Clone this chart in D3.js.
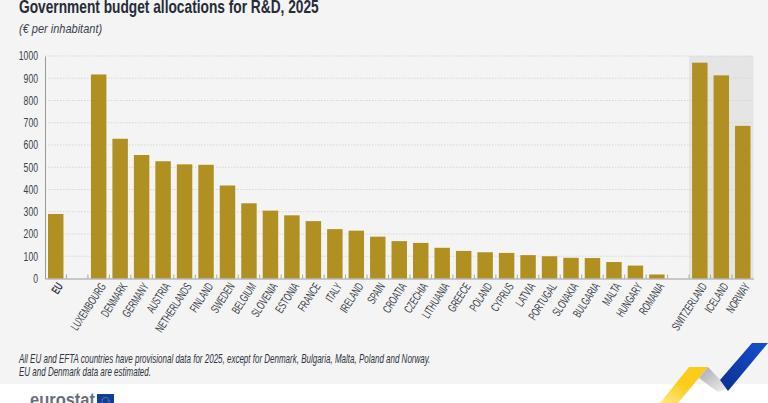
<!DOCTYPE html>
<html><head><meta charset="utf-8">
<script src="https://cdn.jsdelivr.net/npm/d3@7/dist/d3.min.js"></script>
<style>
html,body{margin:0;padding:0;background:#fff;overflow:hidden}
svg{display:block}
text{font-family:"Liberation Sans",sans-serif}
</style></head><body>
<svg id="c" width="768" height="403"></svg>
<script>
const categories=["EU","_a","LUXEMBOURG","DENMARK","GERMANY","AUSTRIA","NETHERLANDS","FINLAND","SWEDEN","BELGIUM","SLOVENIA","ESTONIA","FRANCE","ITALY","IRELAND","SPAIN","CROATIA","CZECHIA","LITHUANIA","GREECE","POLAND","CYPRUS","LATVIA","PORTUGAL","SLOVAKIA","BULGARIA","MALTA","HUNGARY","ROMANIA","_b","SWITZERLAND","ICELAND","NORWAY"];
const values=[290,null,917,628,555,527,513,511,418,338,305,284,258,222,215,188,168,160,138,124,118,115,105,100,93,92,74,58,18,null,970,913,686];
const yTicks=[0,100,200,300,400,500,600,700,800,900,1000];
const titleText="Government budget allocations for R&D, 2025";
const subtitleText="(€ per inhabitant)";
const notes=["All EU and EFTA countries have provisional data for 2025, except for Denmark, Bulgaria, Malta, Poland and Norway.","EU and Denmark data are estimated."];

const svg=d3.select("#c");
const x=d3.scaleBand().domain(categories).range([45,753.5]).paddingInner(0.28).paddingOuter(0.14);
const y=d3.scaleLinear().domain([0,1000]).range([278.5,56]);

svg.append("rect").attr("width",768).attr("height",384).attr("fill","#f4f4f4");
const px=x("SWITZERLAND")-x.step()*0.14;
svg.append("rect").attr("x",px).attr("y",y(1000)).attr("width",753.5-px).attr("height",y(0)-y(1000)).attr("fill","#e5e5e5");

svg.append("g").selectAll("line").data(yTicks.filter(d=>d>0)).join("line")
 .attr("x1",45).attr("x2",753.5).attr("y1",d=>y(d)).attr("y2",d=>y(d))
 .attr("stroke","#d6d6d6").attr("stroke-width",1).attr("stroke-dasharray","1.5 1.5");

const yAxis=d3.axisLeft(y).tickValues(yTicks).tickSize(0).tickFormat(d3.format("d"));
const gy=svg.append("g").attr("transform","translate(45,0)").call(yAxis);
gy.select(".domain").attr("stroke","#9a9a9a");
gy.selectAll("text").attr("font-size",12).attr("fill","#3a3f4a").attr("x",0)
 .attr("transform","translate(-7,0) scale(.72,1)");

svg.append("g").selectAll("rect").data(categories.map((c,i)=>({c,v:values[i]})).filter(d=>d.v!==null)).join("rect")
 .attr("x",d=>x(d.c)).attr("width",x.bandwidth()).attr("y",d=>y(d.v)).attr("height",d=>y(0)-y(d.v)).attr("fill","#b09020");

const xAxis=d3.axisBottom(x).tickSize(0).tickFormat(d=>d[0]==="_"?"":d);
const gx=svg.append("g").attr("transform",`translate(0,${y(0)})`).call(xAxis);
gx.select(".domain").attr("stroke","#9a9a9a");
gx.selectAll("text").attr("font-size",12).attr("fill","#3a3f4a")
 .attr("text-anchor","end").attr("dy",0).attr("x",0).attr("y",0).attr("dominant-baseline","middle")
 .attr("transform","translate(5,6) rotate(-57) scale(.63,1)")
 .attr("font-weight",d=>d==="EU"?"bold":"normal");
svg.append("g").selectAll("line").data(d3.range(1,33)).join("line")
 .attr("x1",i=>45+i*x.step()).attr("x2",i=>45+i*x.step()).attr("y1",y(0)).attr("y2",y(0)-4)
 .attr("stroke","#a8a8a8");

const scaledText=(sel,sx,px,py)=>sel.attr("transform",`translate(${px},${py}) scale(${sx},1)`);
scaledText(svg.append("text").attr("font-size",18).attr("font-weight","bold").attr("fill","#262b38").text(titleText),.763,19,13);
scaledText(svg.append("text").attr("font-size",12.5).attr("font-style","italic").attr("fill","#3a3f4a").text(subtitleText),.88,19,33);
notes.forEach((d,i)=>scaledText(svg.append("text").attr("font-size",12).attr("font-style","italic").attr("fill","#2e3340").text(d),.667,19,363+i*12.5));

// brand ribbon
const defs=svg.append("defs");
const gr=defs.append("linearGradient").attr("id","gy").attr("x1",0).attr("y1",1).attr("x2",1).attr("y2",0);
gr.append("stop").attr("offset",0).attr("stop-color","#ffe98a");
gr.append("stop").attr("offset",.5).attr("stop-color","#fbcc1a");
const gg=defs.append("linearGradient").attr("id","gg").attr("x1",0).attr("y1",0).attr("x2",1).attr("y2",1);
gg.append("stop").attr("offset",0).attr("stop-color","#a9a9ad");
gg.append("stop").attr("offset",1).attr("stop-color","#f1f1f3");
const gb=defs.append("linearGradient").attr("id","gb").attr("x1",0).attr("y1",1).attr("x2",1).attr("y2",0);
gb.append("stop").attr("offset",0).attr("stop-color","#0b2f8e");
gb.append("stop").attr("offset",1).attr("stop-color","#1550d0");
const poly=(pts,f)=>svg.append("polygon").attr("points",pts).attr("fill",f);
poly("660,403 689,367 708,367 678,403","url(#gy)");
poly("708,367 699,378 718,392 728,388","url(#gg)");
poly("720,380 752,343 768,343 728,391","url(#gb)");

// logo
svg.append("text").attr("x",30).attr("y",406).attr("font-size",18).attr("font-weight","bold").attr("fill","#6a6f78").attr("textLength",65).attr("lengthAdjust","spacingAndGlyphs").text("eurostat");
svg.append("rect").attr("x",97).attr("y",394).attr("width",17).attr("height",9).attr("fill","#0f3f9a");
svg.append("circle").attr("cx",105.5).attr("cy",401).attr("r",3.5).attr("fill","none").attr("stroke","#d8c860").attr("stroke-width",.8).attr("stroke-dasharray","1 1");
</script>
</body></html>
